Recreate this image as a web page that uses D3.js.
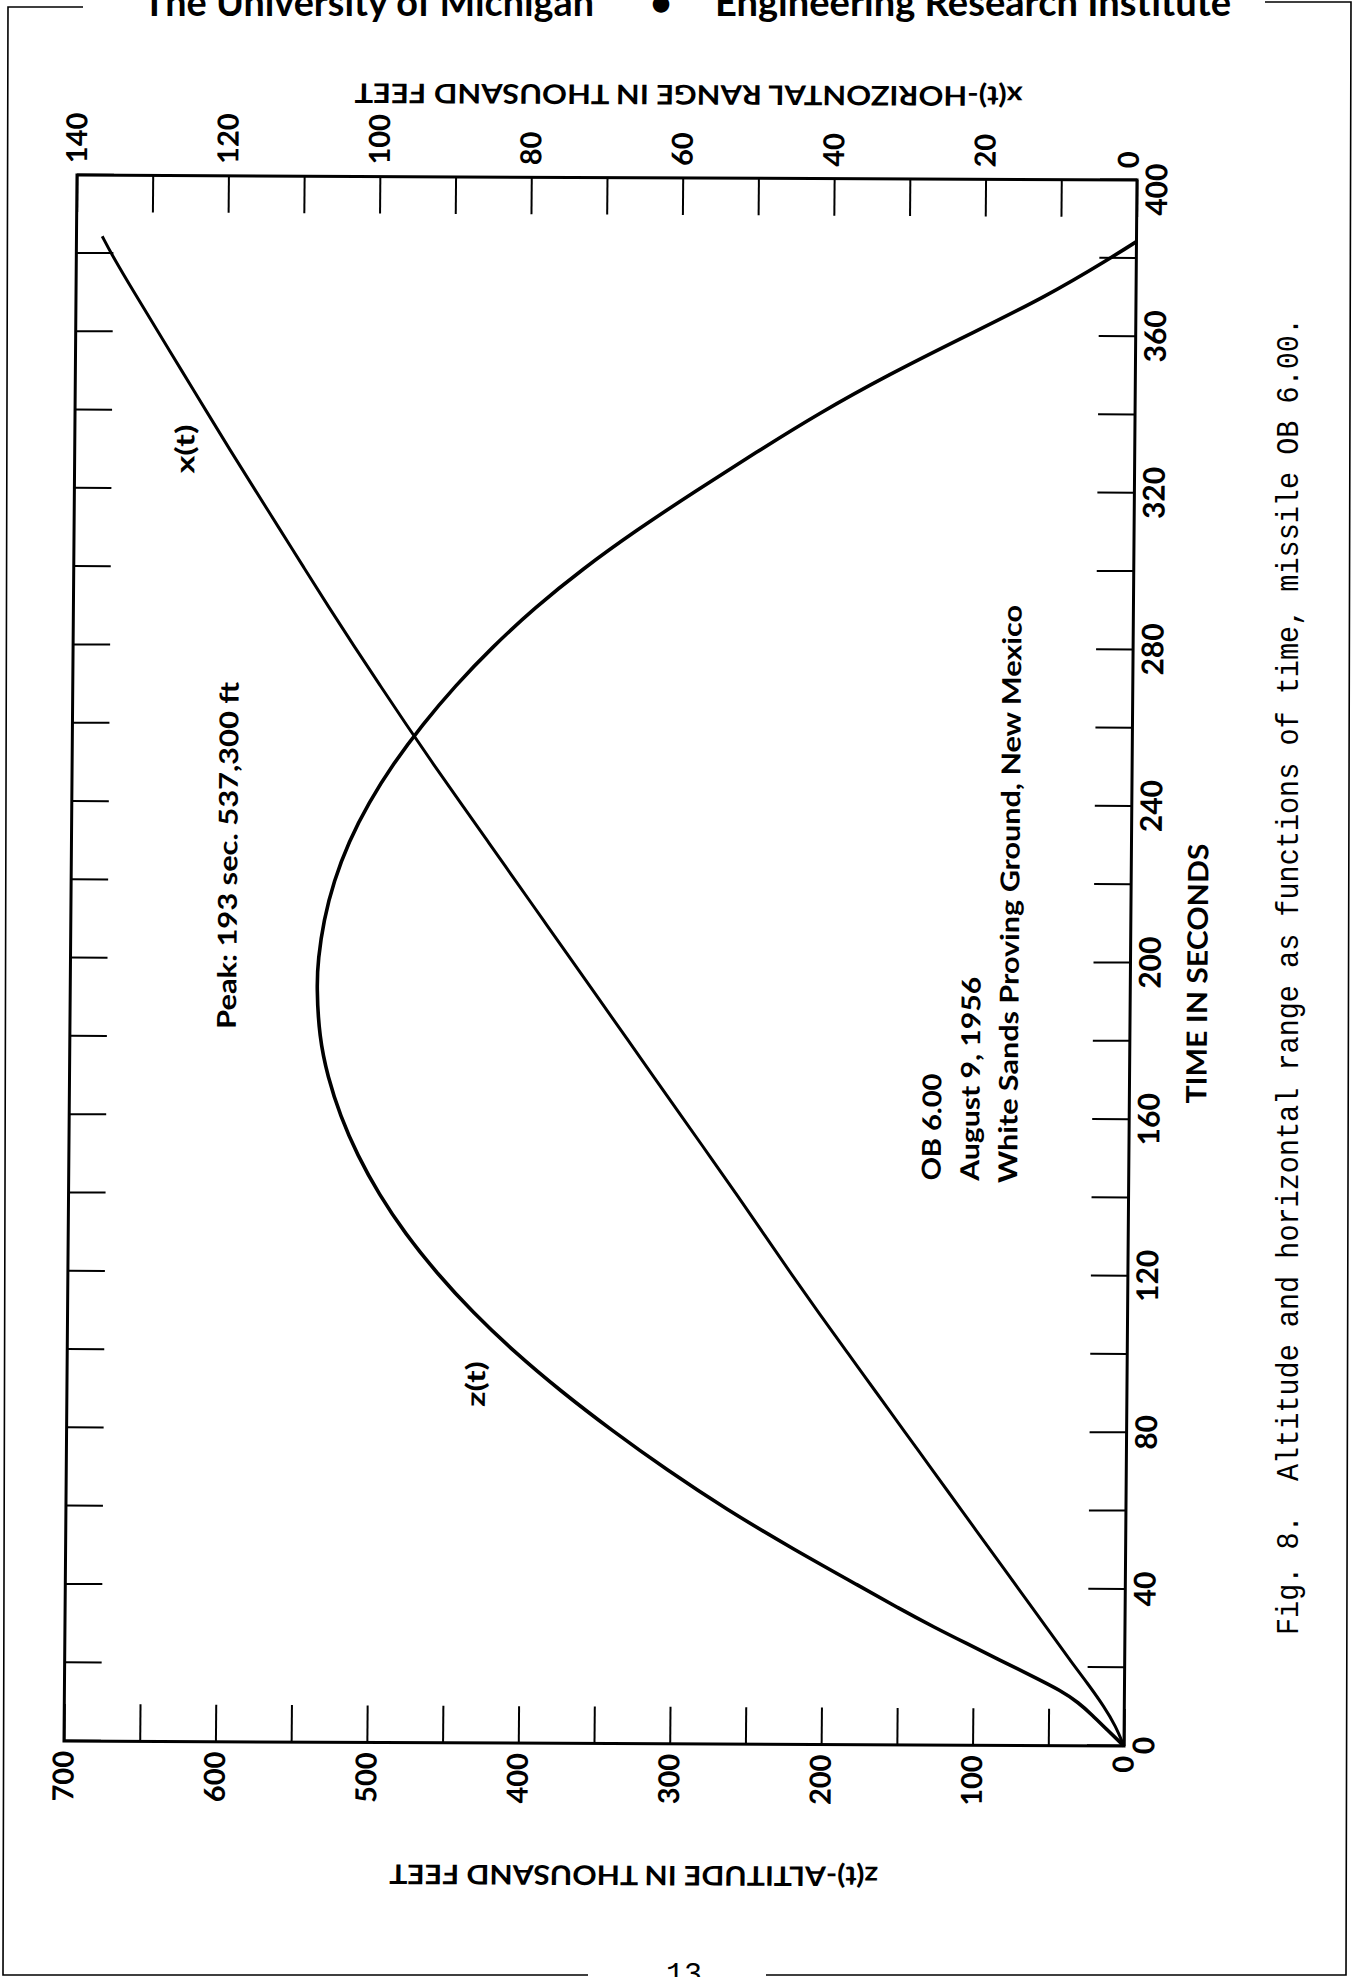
<!DOCTYPE html>
<html>
<head>
<meta charset="utf-8">
<script src="https://cdn.jsdelivr.net/npm/d3@7"></script>
<style>
  body { margin: 0; background: #fff; }
  svg { display: block; background: #fff; }
</style>
</head>
<body>
<svg id="page" width="1355" height="1977"></svg>
<script>
// z(t) altitude, thousand feet
var zTime = [0, 4, 8, 11, 14, 18, 22, 26, 30, 35, 40, 50, 60, 70, 80, 90, 100, 110, 120, 130,
             140, 150, 160, 170, 180, 193, 200, 210, 220, 230, 240, 250, 260, 270, 280, 290, 300,
             310, 320, 330, 340, 350, 360, 370, 380, 384.3];
var zAlt  = [0, 10.9, 21.5, 30.2, 41.5, 62.3, 83.5, 104.5, 125.5, 150, 173, 220, 264, 303.5, 340, 374, 405, 432.5, 456.5, 477.5,
             495, 509.5, 521, 529.5, 535.3, 537.3, 536.5, 533, 526.5, 517, 504, 488, 469, 447.5, 423, 395.5, 364,
             328.5, 290, 250, 209, 163, 112, 60, 17.2, 0];

// x(t) horizontal range, thousand feet
var xTime  = [0, 5, 10, 16, 20, 30, 40, 50, 60, 70, 80, 90, 100, 110, 120, 130, 140, 150, 160, 170,
              180, 190, 200, 210, 220, 230, 240, 250, 260, 270, 280, 290, 300, 310, 320, 330, 340,
              350, 360, 370, 380, 384.4];
var xRange = [0, 1.1, 2.65, 4.9, 6.5, 10.3, 14.1, 17.9, 21.7, 25.5, 29.3, 33.1, 36.9, 40.7, 44.4, 48.0, 51.6, 55.3, 59.0, 62.7,
              66.4, 70.1, 73.8, 77.5, 81.2, 84.9, 88.6, 92.3, 95.9, 99.4, 102.9, 106.3, 109.6, 112.9, 116.2, 119.5, 122.7,
              125.9, 129.1, 132.3, 135.4, 136.6];

// axes: tick positions and which ones carry a label
var timeTicks  = d3.range(0, 401, 20),  timeLabelStep = 40;
var altTicks   = d3.range(0, 701, 50),  altLabelStep  = 100;
var rangeTicks = d3.range(0, 141, 10),  rangeLabelStep = 20;

var peak = {t: 193, z: 537.3};

var svg = d3.select("#page");
var FONT = "Lato, 'DejaVu Sans', sans-serif";
var MONO = "'Liberation Mono', 'DejaVu Sans Mono', monospace";

// the chart is drawn landscape, then turned onto the page (scan is a little skewed)
var W = 1566, H = 1060;
var chart = svg.append("g")
    .attr("transform", "matrix(0.0083,-0.99993,0.99999,0.00472,64,1741)");

var xT = d3.scaleLinear().domain([0, 400]).range([0, W]);
var yZ = d3.scaleLinear().domain([0, 700]).range([H, 0]);
var yR = d3.scaleLinear().domain([0, 140]).range([H, 0]);

function labelEvery(step) {
    return function (d) { return d % step === 0 ? d : ""; };
}

function styleAxis(g, size) {
    g.select(".domain").remove();
    g.selectAll(".tick line").attr("stroke", "#000").attr("stroke-width", 2);
    g.selectAll(".tick text")
        .attr("fill", "#000")
        .attr("font-family", FONT)
        .attr("font-weight", "bold")
        .attr("font-size", size);
}

// time, bottom (labels) and top (ticks only)
var timeAxis = chart.append("g")
    .attr("transform", "translate(0," + H + ")")
    .call(d3.axisBottom(xT).tickValues(timeTicks).tickFormat(labelEvery(timeLabelStep))
        .tickSizeInner(-37).tickSizeOuter(0).tickPadding(9))
    .call(styleAxis, 30);
// last label sits a little below the corner, as on the sheet
timeAxis.selectAll(".tick text").filter(function (d) { return d === 400; }).attr("dx", -10);

chart.append("g")
    .call(d3.axisTop(xT).tickValues(timeTicks).tickFormat("")
        .tickSizeInner(-37).tickSizeOuter(0))
    .call(styleAxis, 30);

// altitude on the left
chart.append("g")
    .call(d3.axisLeft(yZ).tickValues(altTicks).tickFormat(labelEvery(altLabelStep))
        .tickSizeInner(-37).tickSizeOuter(0).tickPadding(10))
    .call(styleAxis, 29);

// range on the right
var rangeAxis = chart.append("g")
    .attr("transform", "translate(" + W + ",0)")
    .call(d3.axisRight(yR).tickValues(rangeTicks).tickFormat(labelEvery(rangeLabelStep))
        .tickSizeInner(-37).tickSizeOuter(0).tickPadding(12))
    .call(styleAxis, 29);
rangeAxis.selectAll(".tick text").filter(function (d) { return d === 0; })
    .attr("transform", "translate(0,-8)");

// frame
chart.append("rect")
    .attr("x", 0).attr("y", 0).attr("width", W).attr("height", H)
    .attr("fill", "none").attr("stroke", "#000").attr("stroke-width", 3);

// curves (hand-drawn look: smooth B-spline through the read points)
var zLine = d3.line()
    .x(function (d, i) { return xT(zTime[i]); })
    .y(function (d) { return yZ(d); })
    .curve(d3.curveBasis);
var xLine = d3.line()
    .x(function (d, i) { return xT(xTime[i]); })
    .y(function (d) { return yR(d); })
    .curve(d3.curveBasis);

chart.append("path").datum(zAlt)
    .attr("d", zLine).attr("fill", "none").attr("stroke", "#000").attr("stroke-width", 3.6)
    .attr("stroke-linejoin", "round");
chart.append("path").datum(xRange)
    .attr("d", xLine).attr("fill", "none").attr("stroke", "#000").attr("stroke-width", 3)
    .attr("stroke-linejoin", "round");

// labels inside the plot
function note(t, y, str, len, size, weight) {
    chart.append("text")
        .attr("x", xT(t)).attr("y", y)
        .attr("font-family", FONT)
        .attr("font-weight", weight || "bold")
        .attr("font-size", size)
        .attr("textLength", len)
        .attr("lengthAdjust", "spacingAndGlyphs")
        .text(str);
}
note(182.1, yZ(590.4), "Peak: " + peak.t + " sec.  " + d3.format(",")(peak.z * 1000) + " ft", 347, 26);
note(323.9, yZ(621), "x(t)", 49, 26);
note(85.8, yZ(424), "z(t)", 46, 26);
note(144.2, yZ(124.2), "OB 6.00", 107, 26);
note(144.2, yZ(98.9), "August 9, 1956", 204, 26);
note(143.7, yZ(73.8), "White Sands Proving Ground, New Mexico", 578, 26);
note(164.2, H + 77, "TIME IN SECONDS", 260, 28);

// axis titles
chart.append("text")
    .attr("transform", "translate(-122," + yZ(323) + ") rotate(-90)")
    .attr("text-anchor", "middle")
    .attr("font-family", FONT).attr("font-weight", "bold").attr("font-size", 27)
    .attr("textLength", 489).attr("lengthAdjust", "spacingAndGlyphs")
    .text("z(t)-ALTITUDE IN THOUSAND FEET");
chart.append("text")
    .attr("transform", "translate(1659," + yR(59.3) + ") rotate(-90)")
    .attr("text-anchor", "middle")
    .attr("font-family", FONT).attr("font-weight", "bold").attr("font-size", 27)
    .attr("textLength", 668).attr("lengthAdjust", "spacingAndGlyphs")
    .text("x(t)-HORIZONTAL RANGE IN THOUSAND FEET");

// caption, typewritten, read bottom to top
svg.append("text")
    .attr("transform", "translate(1298,1635) rotate(-90)")
    .attr("font-family", MONO).attr("font-size", 32)
    .attr("textLength", 1317).attr("lengthAdjust", "spacingAndGlyphs")
    .attr("xml:space", "preserve")
    .text("Fig. 8.  Altitude and horizontal range as functions of time, missile OB 6.00.");

// page header, border and number
svg.append("text")
    .attr("x", 143).attr("y", 16)
    .attr("font-family", FONT).attr("font-weight", "bold").attr("font-size", 38)
    .attr("textLength", 451).attr("lengthAdjust", "spacingAndGlyphs")
    .text("The University of Michigan");
svg.append("text")
    .attr("x", 661).attr("y", 16).attr("text-anchor", "middle")
    .attr("font-family", FONT).attr("font-weight", "bold").attr("font-size", 38)
    .text("\u2022");
svg.append("text")
    .attr("x", 715).attr("y", 16)
    .attr("font-family", FONT).attr("font-weight", "bold").attr("font-size", 38)
    .attr("textLength", 516).attr("lengthAdjust", "spacingAndGlyphs")
    .text("Engineering Research Institute");

var border = [
    [[83, 7], [8, 7], [3, 1975], [588, 1975]],
    [[766, 1975], [1346, 1975], [1351, 2], [1265, 2]]
];
border.forEach(function (pts) {
    svg.append("path")
        .attr("d", d3.line()(pts))
        .attr("fill", "none").attr("stroke", "#000").attr("stroke-width", 1.6);
});

svg.append("text")
    .attr("x", 684).attr("y", 1983).attr("text-anchor", "middle")
    .attr("font-family", MONO).attr("font-size", 30)
    .text("13");
</script>
</body>
</html>
